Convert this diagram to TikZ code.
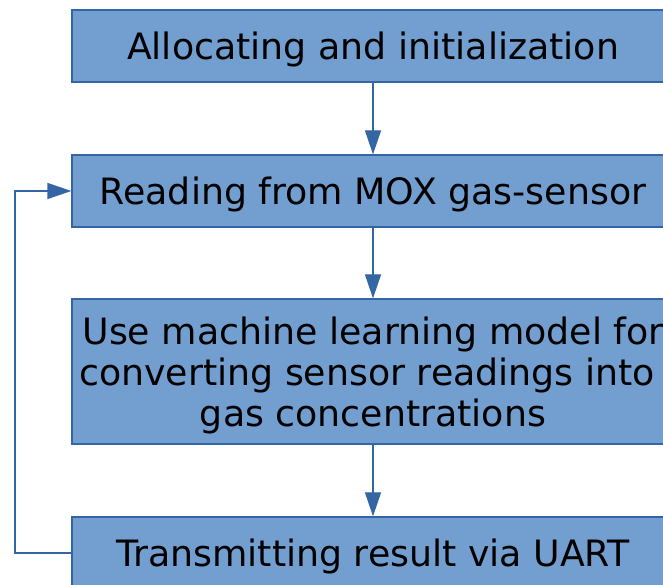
\documentclass[tikz,border=0pt]{standalone}
\usepackage{fontspec}
\setmainfont{DejaVu Sans}
\usetikzlibrary{arrows.meta}
\definecolor{boxfill}{HTML}{729FCF}
\definecolor{boxline}{HTML}{3465A4}
\begin{document}
\begin{tikzpicture}[x=1pt,y=1pt,
  stepbox/.style={draw=boxline, fill=boxfill, line width=1.3pt, minimum width=602pt,
    minimum height=72pt, inner sep=0pt, align=center,
    font=\fontsize{36.3}{41}\selectfont},
  single/.style={text height=26.5pt, text depth=0pt},
  flow/.style={draw=boxline, line width=1.3pt, -{Triangle[length=24pt,width=16pt]}}]
\useasboundingbox (0,0) rectangle (663,585);
\clip (0,0) rectangle (663,585);
\node[stepbox, single] (b1) at (373,539) {Allocating and initialization};
\node[stepbox, single] (b2) at (373,394) {Reading from MOX gas-sensor};
\node[stepbox, minimum height=145pt, text depth=0pt] (b3) at (373,213.5) {Use machine learning model for\\converting sensor readings into\kern12pt\\gas concentrations};
\node[stepbox, single] (b4) at (373,32) {Transmitting result via UART};
\coordinate (c1) at (15,0);
\draw[flow] (b1) -- (b2);
\draw[flow] (b2) -- (b3);
\draw[flow] (b3) -- (b4);
\draw[flow] (b4.west) -| (c1 |- b2.west) -- (b2.west);
\end{tikzpicture}
\end{document}
